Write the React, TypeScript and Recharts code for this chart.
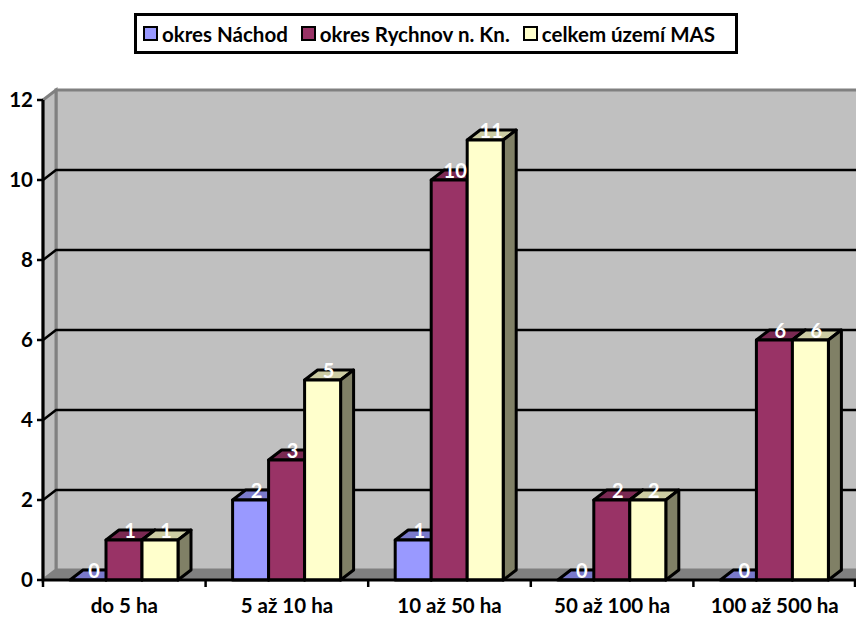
import { Bar, BarChart, CartesianGrid, LabelList, Legend, ReferenceArea, XAxis, YAxis } from "recharts";

const categories = ["do 5 ha", "5 až 10 ha", "10 až 50 ha", "50 až 100 ha", "100 až 500 ha"];
const nachod = [0, 2, 1, 0, 0];
const rychnov = [1, 3, 10, 2, 6];
const celkem = [1, 5, 11, 2, 6];
const yTicks = [0, 2, 4, 6, 8, 10, 12];

const chartData = categories.map((name, i) => ({
  name,
  nachod: nachod[i],
  rychnov: rychnov[i],
  celkem: celkem[i],
}));

const FONT = "Lato, sans-serif";
const DEPTH_X = 13;
const DEPTH_Y = 10;

const seriesStyles = [
  { key: "nachod", label: "okres Náchod", front: "#9999FF", top: "#7A7ACC", side: "#4D4D80" },
  { key: "rychnov", label: "okres Rychnov n. Kn.", front: "#993366", top: "#7A2952", side: "#4D1933" },
  { key: "celkem", label: "celkem území MAS", front: "#FFFFCC", top: "#CCCCA3", side: "#808066" },
];

// front, top and side faces of one fake 3D bar
const bar3d = (front: string, top: string, side: string) => (props: any) => {
  const { x, y, width, height } = props;
  const r = x + width;
  const b = y + height;
  return (
    <g stroke="#000" strokeWidth={3} strokeLinejoin="round">
      <path
        d={`M${x},${y} L${x + DEPTH_X},${y - DEPTH_Y} L${r + DEPTH_X},${y - DEPTH_Y} L${r},${y} Z`}
        fill={top}
      />
      <path
        d={`M${r},${y} L${r + DEPTH_X},${y - DEPTH_Y} L${r + DEPTH_X},${b - DEPTH_Y} L${r},${b} Z`}
        fill={side}
      />
      <rect x={x} y={y} width={width} height={height} fill={front} />
    </g>
  );
};

const BarLabel = (props: any) => {
  const { x, y, width, value } = props;
  return (
    <text
      x={x + width / 2 + 6}
      y={y - 9}
      dy="0.36em"
      textAnchor="middle"
      fill="#fff"
      fontFamily={FONT}
      fontWeight={700}
      fontSize={20}
    >
      {value}
    </text>
  );
};

const Walls = (props: any) => {
  const { x, y, width, height } = props;
  const r = x + width;
  const b = y + height;
  return (
    <g>
      <rect x={x + DEPTH_X} y={y - DEPTH_Y} width={width} height={height} fill="#C0C0C0" stroke="#808080" strokeWidth={3} />
      <path
        d={`M${x},${y} L${x + DEPTH_X},${y - DEPTH_Y} L${x + DEPTH_X},${b - DEPTH_Y} L${x},${b} Z`}
        fill="#C0C0C0"
        stroke="#808080"
        strokeWidth={3}
      />
      <path d={`M${x},${b} L${x + DEPTH_X},${b - DEPTH_Y} L${r + DEPTH_X},${b - DEPTH_Y} L${r},${b} Z`} fill="#808080" />
    </g>
  );
};

const GridLine = (props: any) => {
  const { x1, y1, x2, index } = props;
  if (index === 0 || index === yTicks.length - 1) return <g />;
  return (
    <path
      d={`M${x1},${y1} L${x1 + DEPTH_X},${y1 - DEPTH_Y} L${x2 + DEPTH_X},${y1 - DEPTH_Y}`}
      fill="none"
      stroke="#000"
      strokeWidth={2.5}
    />
  );
};

const CategoryTick = (props: any) => {
  const { x, y, payload, index } = props;
  const band = 813 / categories.length;
  return (
    <g>
      <path d={`M${x - band / 2},${y - 8} v7`} stroke="#000" strokeWidth={2.5} />
      {index === categories.length - 1 && <path d={`M${x + band / 2 - 1},${y - 8} v7`} stroke="#000" strokeWidth={2.5} />}
      <text x={x} y={y + 25} textAnchor="middle" fill="#000" fontFamily={FONT} fontWeight={700} fontSize={20.5}>
        {payload.value}
      </text>
    </g>
  );
};

const LegendBox = () => (
  <div
    style={{
      boxSizing: "border-box",
      width: 604,
      height: 41,
      border: "3px solid #000",
      background: "#fff",
      display: "flex",
      alignItems: "center",
      paddingLeft: 6,
      fontFamily: FONT,
      fontWeight: 700,
      fontSize: 20.5,
      color: "#000",
      whiteSpace: "nowrap",
    }}
  >
    {seriesStyles.map((s) => (
      <span key={s.key} style={{ display: "flex", alignItems: "center", marginRight: 13 }}>
        <span
          style={{
            boxSizing: "border-box",
            width: 15,
            height: 15,
            border: "2.5px solid #000",
            background: s.front,
            marginRight: 4,
          }}
        />
        {s.label}
      </span>
    ))}
  </div>
);

export default function App() {
  return (
    <div style={{ position: "absolute", left: 0, top: 0, width: 856, height: 617, background: "#fff" }}>
      <BarChart
        width={856}
        height={617}
        data={chartData}
        margin={{ top: 59, right: 0, bottom: 0, left: 0 }}
        barSize={36}
        barGap={0}
      >
        <ReferenceArea y1={0} y2={12} shape={Walls} ifOverflow="visible" zIndex={-200} />
        <CartesianGrid horizontal={GridLine} vertical={false} />
        <XAxis
          dataKey="name"
          height={37}
          interval={0}
          axisLine={{ stroke: "#000", strokeWidth: 3 }}
          tickLine={false}
          tick={CategoryTick}
        />
        <YAxis
          width={43}
          domain={[0, 12]}
          ticks={yTicks}
          interval={0}
          axisLine={{ stroke: "#000", strokeWidth: 3 }}
          tickLine={{ stroke: "#000", strokeWidth: 2.5 }}
          tickSize={6}
          tickMargin={4}
          tick={{ fill: "#000", fontFamily: FONT, fontWeight: 700, fontSize: 20.5 }}
        />
        <Legend
          verticalAlign="top"
          content={LegendBox}
          wrapperStyle={{ left: 134, top: 13, width: 604, height: 41, bottom: "auto" }}
        />
        {seriesStyles.map((s) => (
          <Bar key={s.key} dataKey={s.key} isAnimationActive={false} shape={bar3d(s.front, s.top, s.side)}>
            <LabelList dataKey={s.key} content={BarLabel} />
          </Bar>
        ))}
      </BarChart>
    </div>
  );
}
